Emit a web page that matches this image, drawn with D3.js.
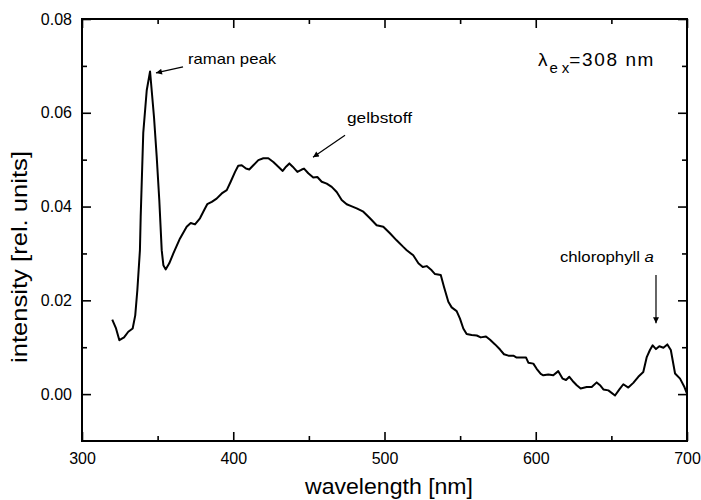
<!DOCTYPE html>
<html>
<head>
<meta charset="utf-8">
<script src="https://cdn.jsdelivr.net/npm/d3@7"></script>
<style>
  html, body { margin: 0; padding: 0; background: #fff; }
  svg { display: block; font-family: "Liberation Sans", Arial, sans-serif; }
</style>
</head>
<body>
<svg id="chart" width="701" height="500"></svg>
<script>
// ---------- data ----------
const wavelength = [320, 322.5, 324.7, 327.8, 330.6, 333.5, 335.2, 336.6, 338.3, 338.8, 340.5, 342.8, 345, 347.6, 349.4, 351.1, 352.7, 353.8, 355.3, 357.7, 360.4, 364.8, 369.2, 371.9, 374.7, 378, 380.7, 382.8, 385.8, 389, 392.4, 395.7, 398.3, 401.2, 403.3, 405.6, 408.4, 410.6, 413.3, 416.6, 419.9, 423.2, 426.5, 429.8, 432.7, 434.9, 437.1, 439.3, 442.4, 445.3, 446.8, 449.6, 452.9, 455.6, 458.5, 461.8, 465.1, 468.4, 471.7, 475, 478, 481.6, 486, 490.4, 494.8, 499.2, 503.6, 508, 512.4, 514.7, 519, 522.4, 525.3, 527.9, 531.2, 533.4, 537.2, 539.3, 542.2, 544.4, 547.7, 549.9, 552.1, 554.3, 557.6, 561, 563.6, 567.1, 569.8, 573.1, 576.4, 579, 581.9, 585.2, 587.4, 590.7, 593.6, 595.1, 598.4, 600.6, 603.3, 605, 608.3, 611.6, 614.9, 617.8, 620, 622.2, 624.4, 627.1, 629.7, 633.7, 637, 640.3, 642.5, 644.7, 648, 652.4, 655.3, 657.9, 661.2, 664.5, 667.8, 671.1, 673.4, 675.5, 677.3, 679.5, 681.7, 684.4, 687, 689.3, 692.1, 695.4, 698.3, 700];
const intensity = [0.0159, 0.0140, 0.0115, 0.0121, 0.0133, 0.0140, 0.0168, 0.0222, 0.0307, 0.0378, 0.0557, 0.0648, 0.0688, 0.0591, 0.0506, 0.0414, 0.0307, 0.0275, 0.0266, 0.0279, 0.0300, 0.0332, 0.0357, 0.0365, 0.0362, 0.0375, 0.0392, 0.0405, 0.0410, 0.0417, 0.0428, 0.0435, 0.0453, 0.0474, 0.0487, 0.0488, 0.0481, 0.0479, 0.0488, 0.0499, 0.0503, 0.0503, 0.0495, 0.0485, 0.0476, 0.0485, 0.0492, 0.0485, 0.0474, 0.0479, 0.0481, 0.0471, 0.0462, 0.0463, 0.0453, 0.0449, 0.0442, 0.0431, 0.0414, 0.0405, 0.0401, 0.0396, 0.0389, 0.0375, 0.0360, 0.0357, 0.0343, 0.0328, 0.0314, 0.0307, 0.0296, 0.0279, 0.0271, 0.0273, 0.0264, 0.0256, 0.0254, 0.0229, 0.0197, 0.0185, 0.0177, 0.0161, 0.0140, 0.0128, 0.0126, 0.0125, 0.0121, 0.0123, 0.0116, 0.0106, 0.0095, 0.0085, 0.0082, 0.0082, 0.0078, 0.0078, 0.0078, 0.0067, 0.0065, 0.0054, 0.0043, 0.0040, 0.0042, 0.0040, 0.0049, 0.0033, 0.0030, 0.0037, 0.0028, 0.0019, 0.0012, 0.0015, 0.0015, 0.0025, 0.0019, 0.0010, 0.0008, -0.0003, 0.0010, 0.0021, 0.0014, 0.0024, 0.0037, 0.0047, 0.0079, 0.0094, 0.0104, 0.0096, 0.0102, 0.0099, 0.0106, 0.0094, 0.0044, 0.0033, 0.0015, 0.0001];

const xMajorTicks = [300, 400, 500, 600, 700];
const xMinorTicks = [350, 450, 550, 650];
const yMajorTicks = [0.00, 0.02, 0.04, 0.06, 0.08];
const yMinorTicks = [0.01, 0.03, 0.05, 0.07];
const xDomain = [300, 700];
const yDomain = [-0.01, 0.08];

const xTitle = "wavelength [nm]";
const yTitle = "intensity [rel. units]";

// annotations (anchors in data units)
const notes = [
  { text: "raman peak", w: 370.1, v: 0.0704, len: 88 },
  { text: "gelbstoff", w: 475.2, v: 0.0578, len: 65 }
];
const arrows = [
  { w1: 366.8, v1: 0.0698, w2: 348.9, v2: 0.0685 },
  { w1: 473.9, v1: 0.0552, w2: 452.7, v2: 0.0505 },
  { w1: 679.5, v1: 0.0254, w2: 679.5, v2: 0.0151 }
];
const chloro = { w: 616.0, v: 0.0282 };
const lambdaNote = { w: 601.5, v: 0.0700 };

// ---------- layout ----------
const svg = d3.select("#chart");
const mLeft = 82, mRight = 687, mTop = 19, mBottom = 441;

const x = d3.scaleLinear().domain(xDomain).range([mLeft, mRight]);
const y = d3.scaleLinear().domain(yDomain).range([mBottom, mTop]);

const defs = svg.append("defs");
defs.append("marker")
  .attr("id", "arrow")
  .attr("viewBox", "0 0 10 10")
  .attr("refX", 10).attr("refY", 5)
  .attr("markerWidth", 10).attr("markerHeight", 6)
  .attr("markerUnits", "userSpaceOnUse")
  .attr("orient", "auto")
  .append("path").attr("d", "M0,0 L10,5 L0,10 Z").attr("fill", "#000");

const fontTick = 16;

function styleAxis(g) {
  g.select(".domain").remove();
  g.selectAll(".tick line").attr("stroke", "#000").attr("stroke-width", 1.6);
  g.selectAll(".tick text").attr("fill", "#000").style("font-size", fontTick + "px");
}

// bottom
svg.append("g").attr("transform", `translate(0,${mBottom})`)
  .call(d3.axisBottom(x).tickValues(xMajorTicks).tickFormat(d3.format("d"))
    .tickSizeInner(-9).tickSizeOuter(0).tickPadding(12))
  .call(styleAxis);
svg.append("g").attr("transform", `translate(0,${mBottom})`)
  .call(d3.axisBottom(x).tickValues(xMinorTicks).tickFormat("")
    .tickSizeInner(-5).tickSizeOuter(0))
  .call(styleAxis);
// top
svg.append("g").attr("transform", `translate(0,${mTop})`)
  .call(d3.axisTop(x).tickValues(xMajorTicks).tickFormat("")
    .tickSizeInner(-9).tickSizeOuter(0))
  .call(styleAxis);
svg.append("g").attr("transform", `translate(0,${mTop})`)
  .call(d3.axisTop(x).tickValues(xMinorTicks).tickFormat("")
    .tickSizeInner(-5).tickSizeOuter(0))
  .call(styleAxis);
// left
svg.append("g").attr("transform", `translate(${mLeft},0)`)
  .call(d3.axisLeft(y).tickValues(yMajorTicks).tickFormat(d3.format(".2f"))
    .tickSizeInner(-9).tickSizeOuter(0).tickPadding(10))
  .call(styleAxis);
svg.append("g").attr("transform", `translate(${mLeft},0)`)
  .call(d3.axisLeft(y).tickValues(yMinorTicks).tickFormat("")
    .tickSizeInner(-5).tickSizeOuter(0))
  .call(styleAxis);
// right
svg.append("g").attr("transform", `translate(${mRight},0)`)
  .call(d3.axisRight(y).tickValues(yMajorTicks).tickFormat("")
    .tickSizeInner(-9).tickSizeOuter(0))
  .call(styleAxis);
svg.append("g").attr("transform", `translate(${mRight},0)`)
  .call(d3.axisRight(y).tickValues(yMinorTicks).tickFormat("")
    .tickSizeInner(-5).tickSizeOuter(0))
  .call(styleAxis);

// frame
svg.append("rect")
  .attr("x", mLeft).attr("y", mTop)
  .attr("width", mRight - mLeft).attr("height", mBottom - mTop)
  .attr("fill", "none").attr("stroke", "#000").attr("stroke-width", 2);

// curve
const data = wavelength.map((w, i) => [w, intensity[i]]);
svg.append("path")
  .datum(data)
  .attr("fill", "none")
  .attr("stroke", "#000")
  .attr("stroke-width", 2)
  .attr("stroke-linejoin", "round")
  .attr("d", d3.line().x(d => x(d[0])).y(d => y(d[1])));

// axis titles
svg.append("text")
  .attr("x", 389).attr("y", 494)
  .attr("text-anchor", "middle")
  .attr("textLength", 168).attr("lengthAdjust", "spacingAndGlyphs")
  .style("font-size", "22px").attr("fill", "#000")
  .text(xTitle);
svg.append("text")
  .attr("transform", "translate(27,257) rotate(-90)")
  .attr("text-anchor", "middle")
  .attr("textLength", 212).attr("lengthAdjust", "spacingAndGlyphs")
  .style("font-size", "22px").attr("fill", "#000")
  .text(yTitle);

// annotations
notes.forEach(n => {
  svg.append("text")
    .attr("x", x(n.w)).attr("y", y(n.v))
    .attr("textLength", n.len).attr("lengthAdjust", "spacingAndGlyphs")
    .style("font-size", "15px").attr("fill", "#000")
    .text(n.text);
});
const ct = svg.append("text")
  .attr("x", x(chloro.w)).attr("y", y(chloro.v))
  .attr("textLength", 94).attr("lengthAdjust", "spacingAndGlyphs")
  .style("font-size", "15px").attr("fill", "#000");
ct.append("tspan").text("chlorophyll ");
ct.append("tspan").style("font-style", "italic").text("a");

arrows.forEach(a => {
  svg.append("line")
    .attr("x1", x(a.w1)).attr("y1", y(a.v1))
    .attr("x2", x(a.w2)).attr("y2", y(a.v2))
    .attr("stroke", "#000").attr("stroke-width", 1.2)
    .attr("marker-end", "url(#arrow)");
});

const lt = svg.append("text")
  .attr("x", x(lambdaNote.w)).attr("y", y(lambdaNote.v))
  .style("font-size", "19px").attr("fill", "#000");
lt.append("tspan").text("λ");
lt.append("tspan").attr("dy", 7).attr("dx", 2).style("font-size", "15px").text("e");
lt.append("tspan").attr("dx", 4).style("font-size", "15px").text("x");
lt.append("tspan").attr("dy", -7).attr("letter-spacing", "1.6").text("=308 nm");
</script>
</body>
</html>
